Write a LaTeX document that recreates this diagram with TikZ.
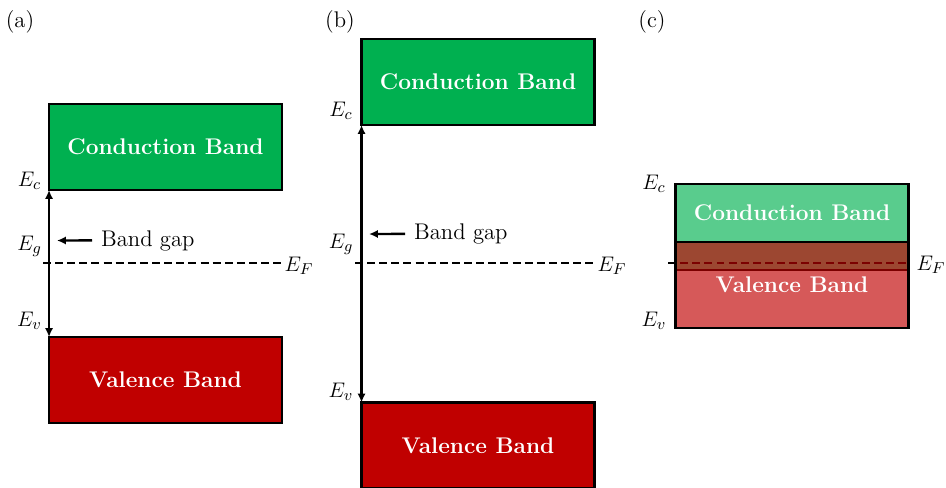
\documentclass[tikz,border=0pt]{standalone}
\usepackage{tikz}
\usetikzlibrary{arrows.meta,positioning,calc}
\definecolor{bandgreen}{RGB}{0,176,80}
\definecolor{bandred}{RGB}{192,0,0}

\begin{document}
\begin{tikzpicture}[x=0.02cm,y=-0.02cm,
  font=\fontsize{12.9}{15}\selectfont,
  band/.style={draw=black, line width=1.4pt, minimum width=4.66cm, minimum height=1.72cm,
    outer sep=0pt, inner sep=0pt, text=white, font=\fontsize{12.9}{15}\selectfont\bfseries},
  bandlabel/.style={text=white, font=\fontsize{12.9}{15}\selectfont\bfseries},
  gaparrow/.style={{Latex[length=5pt,width=4.6pt]}-{Latex[length=5pt,width=4.6pt]}, line width=1.4pt},
  pointer/.style={-{Latex[length=5pt,width=4.6pt]}, line width=1.4pt},
  fermi/.style={line width=1.4pt, dash pattern=on 4.5pt off 2.4pt},
  level/.style={inner sep=1pt},
  gaptext/.style={anchor=base west, inner xsep=5pt}]

\useasboundingbox (0,0) rectangle (946,487);

% (a) Halbleiter
\node (labA) at (20,22) {(a)};
\node[band, fill=bandgreen] (cbA) at (165.5,147) {Conduction Band};
\node[band, fill=bandred] (vbA) at (165.5,380) {Valence Band};
\draw[gaparrow] (cbA.south west) -- (vbA.north west);
\node[level] (ecA) at (29.5,181) {$E_c$};
\node[level] (egA) at (29.5,246) {$E_g$};
\node[level] (evA) at (29.5,321) {$E_v$};
\node[gaptext] (bgA) at (92,246) {Band gap};
\coordinate (bgtipA) at (57,240.5);
\draw[pointer] (bgA.west) -- (bgtipA);
\coordinate (fA) at (43,263);
\node[level] (efA) at (299,266) {$E_F$};
\draw[fermi] (fA) -- (fA -| efA.west);

% (b) Isolator
\node (labB) at (340,22) {(b)};
\node[band, fill=bandgreen] (cbB) at (478,82) {Conduction Band};
\node[band, fill=bandred] (vbB) at (478,445.5) {Valence Band};
\draw[gaparrow] (cbB.south west) -- (vbB.north west);
\node[level] (ecB) at (341,111) {$E_c$};
\node[level] (egB) at (341,244) {$E_g$};
\node[level] (evB) at (341,392) {$E_v$};
\node[gaptext] (bgB) at (405,239.5) {Band gap};
\coordinate (bgtipB) at (369,234);
\draw[pointer] (bgB.west) -- (bgtipB);
\coordinate (fB) at (355,263);
\node[level] (efB) at (612,266) {$E_F$};
\draw[fermi] (fB) -- (fB -| efB.west);

% (c) Metall
\node (labC) at (652,22) {(c)};
\node[band, fill=bandgreen, fill opacity=.65, text opacity=1] (cbC) at (792,227) {};
\coordinate (fC) at (668,263);
\draw[fermi] (fC) -- (fC -| cbC.east);
\node[band, fill=bandred, fill opacity=.65, text opacity=1] (vbC) at (792,285) {Valence Band};
\node[bandlabel] (cbtextC) at (792,213) {Conduction Band};
\node[level] (ecC) at (654,184) {$E_c$};
\node[level] (evC) at (654,321) {$E_v$};
\node[level] (efC) at (931,265) {$E_F$};

\end{tikzpicture}
\end{document}
